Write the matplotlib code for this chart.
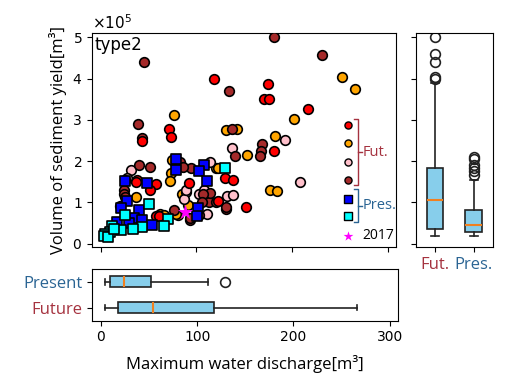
import matplotlib
matplotlib.use('Agg')
import matplotlib.pyplot as plt
import numpy as np

# ---- data (y in units of 1e5) ----
fut_red_x = [118.3, 174.9, 170.3, 175.5, 216.8, 71.2, 73.3, 43.2, 180.7, 37.7, 36.3, 57.2,
             51.9, 92.5, 130.2, 138.2, 122.5, 152.1, 57.9, 61.0, 20.0]
fut_red_y = [3.98, 3.86, 3.50, 3.50, 3.25, 2.77, 2.59, 2.48, 2.24, 1.55, 1.50, 1.44,
             1.29, 1.47, 1.58, 1.54, 1.03, 0.89, 0.66, 0.67, 0.90]

fut_orange_x = [252.4, 266.3, 76.4, 202.1, 130.5, 142.0, 181.8, 152.9, 74.7, 72.9, 72.0,
                120.4, 123.0, 177.3, 184.2, 36.3, 85.1, 91.0, 62.4, 66.0, 81.0, 79.0]
fut_orange_y = [4.04, 3.75, 3.11, 3.03, 2.75, 2.78, 2.61, 2.14, 2.02, 1.70, 1.52,
                1.84, 1.84, 1.29, 1.27, 1.13, 1.21, 0.94, 0.71, 0.69, 0.69, 0.72]

fut_pink_x = [137.2, 192.3, 208.0, 32.0, 114.5, 89.3, 102.2, 107.4, 131.9, 138.0, 111.0,
              87.2, 88.6, 27.0]
fut_pink_y = [2.31, 2.52, 1.50, 1.78, 1.98, 1.25, 1.21, 1.29, 1.15, 1.17, 0.71,
              1.09, 1.29, 1.60]

fut_brown_x = [181.5, 231.7, 45.0, 134.0, 39.0, 43.2, 136.8, 168.6, 167.5, 166.3, 140.6,
               40.1, 51.9, 82.3, 94.6, 112.7, 114.5, 130.9, 130.9, 93.5, 76.4, 24.4,
               24.4, 25.0, 25.0, 102.2, 92.8, 106.9, 120.0, 105.8, 86.0]
fut_brown_y = [5.00, 4.57, 4.39, 3.70, 2.91, 2.57, 2.77, 2.41, 2.24, 2.12, 2.12,
               1.90, 1.86, 1.98, 1.82, 1.01, 1.23, 0.83, 0.88, 0.57, 0.81, 1.29,
               1.21, 1.13, 1.54, 0.69, 0.61, 1.21, 1.00, 1.00, 1.86]

pres_blue_x = [78.1, 78.5, 107.4, 102.2, 111.1, 25.1, 48.5, 27.5, 21.6, 39.8, 34.6, 43.2,
               53.7, 17.1, 29.3, 101.6, 100.6]
pres_blue_y = [2.06, 1.78, 1.90, 1.76, 1.52, 1.52, 1.46, 1.03, 0.85, 0.81, 0.61, 0.58,
               0.44, 0.52, 0.49, 0.85, 0.67]

pres_cyan_x = [129.4, 50.2, 25.1, 70.5, 66.0, 43.2, 33.5, 21.6, 11.8, 10.1, 4.8, 3.5, 7.0, 14.0]
pres_cyan_y = [1.82, 0.97, 0.69, 0.59, 0.42, 0.39, 0.35, 0.32, 0.42, 0.28, 0.22, 0.19, 0.17, 0.36]

obs_2017_x = [88.3]
obs_2017_y = [0.77]

# box plot summaries
discharge_stats = {
    'Future': dict(whislo=3.8, q1=17.4, med=53.7, q3=118.0, whishi=265.6, fliers=[]),
    'Present': dict(whislo=3.8, q1=9.7, med=24.4, q3=51.6, whishi=111.6, fliers=[129.0]),
}
sediment_stats = {
    'Fut.': dict(whislo=0.19, q1=0.35, med=1.05, q3=1.82, whishi=3.88,
                 fliers=[3.99, 4.03, 4.41, 4.59, 5.0]),
    'Pres.': dict(whislo=0.19, q1=0.27, med=0.46, q3=0.81, whishi=1.54,
                  fliers=[1.66, 1.76, 1.82, 1.90, 2.04, 2.09]),
}

SCALE = 1e5
FUT_C = '#A5323F'
PRES_C = '#2A6493'
TXT_FONT = ['Open Sans', 'DejaVu Sans']

fig = plt.figure(figsize=(5.16, 3.9), dpi=100)
ax = fig.add_axes([0.178, 0.367, 0.590, 0.548])
axr = fig.add_axes([0.806, 0.367, 0.149, 0.548], sharey=ax)
axb = fig.add_axes([0.178, 0.178, 0.594, 0.1326], sharex=ax)

series = [
    (fut_orange_x, fut_orange_y, 'orange', 'o'),
    (fut_pink_x, fut_pink_y, 'pink', 'o'),
    (fut_brown_x, fut_brown_y, 'brown', 'o'),
    (fut_red_x, fut_red_y, 'red', 'o'),
    (pres_blue_x, pres_blue_y, 'blue', 's'),
    (pres_cyan_x, pres_cyan_y, 'cyan', 's'),
]
for xs, ys, c, m in series:
    ax.scatter(xs, np.array(ys) * SCALE, s=48, c=c, marker=m, edgecolors='black',
               linewidths=1.2, zorder=3)
ax.scatter(obs_2017_x, np.array(obs_2017_y) * SCALE, s=130, c='magenta', marker='*',
           linewidths=0, zorder=4)

# hand-made legend (axes fraction)
leg_x = 0.843
leg_items = [('red', 'o', 0.569), ('orange', 'o', 0.484), ('pink', 'o', 0.397),
             ('brown', 'o', 0.312), ('blue', 's', 0.226), ('cyan', 's', 0.143)]
for c, m, yy in leg_items:
    ax.scatter([leg_x], [yy], s=26, c=c, marker=m, edgecolors='black', linewidths=1.0,
               transform=ax.transAxes, zorder=5)
ax.scatter([leg_x], [0.053], s=55, c='magenta', marker='*', linewidths=0,
           transform=ax.transAxes, zorder=5)
ax.text(0.888, 0.053, '2017', transform=ax.transAxes, fontsize=10, va='center',
        family=TXT_FONT)


def bracket(y0, y1, color, label):
    xa, xb, xc = 0.860, 0.873, 0.888
    ax.plot([xa, xb, xb, xa], [y0, y0, y1, y1], color=color, lw=1.0,
            transform=ax.transAxes, clip_on=False)
    ym = (y0 + y1) / 2
    ax.plot([xb, xc], [ym, ym], color=color, lw=1.0, transform=ax.transAxes)
    ax.text(xc + 0.003, ym, label, color=color, transform=ax.transAxes, fontsize=10.5,
            va='center', family=TXT_FONT)


bracket(0.597, 0.288, FUT_C, 'Fut.')
bracket(0.269, 0.116, PRES_C, 'Pres.')

ax.text(0.01, 0.985, 'type2', transform=ax.transAxes, fontsize=12, va='top', ha='left')
ax.set_xlim(-9.4, 309)
ax.set_ylim(-0.08 * SCALE, 5.1 * SCALE)
ax.set_yticks(np.arange(0, 6) * SCALE)
ax.ticklabel_format(style='sci', axis='y', scilimits=(0, 0), useMathText=True)
ax.yaxis.get_offset_text().set_fontsize(11)
ax.tick_params(labelbottom=False, labelsize=10)
ax.set_ylabel('Volume of sediment yield[m³]', fontsize=12, family=TXT_FONT)

boxkw = dict(patch_artist=True, widths=0.42,
             boxprops=dict(facecolor='skyblue', edgecolor='#222222', linewidth=1.2),
             medianprops=dict(color='#F08020', linewidth=1.5),
             whiskerprops=dict(color='#222222', linewidth=1.2),
             capprops=dict(color='#222222', linewidth=1.2),
             flierprops=dict(marker='o', markerfacecolor='none', markeredgecolor='#222222',
                             markersize=7, markeredgewidth=1.2))

# right: sediment yield box plots
sed_stats = []
for k, v in sediment_stats.items():
    d = dict(v)
    for key in ('whislo', 'q1', 'med', 'q3', 'whishi'):
        d[key] = v[key] * SCALE
    d['fliers'] = np.array(v['fliers']) * SCALE
    d['label'] = k
    sed_stats.append(d)
axr.bxp(sed_stats, positions=[1, 2], **boxkw)
axr.set_xlim(0.5, 2.5)
axr.tick_params(labelleft=False, labelsize=12)
axr.yaxis.get_offset_text().set_visible(False)
for lab, c in zip(axr.get_xticklabels(), [FUT_C, PRES_C]):
    lab.set_color(c)
    lab.set_family(TXT_FONT)
    lab.set_fontsize(12)

# bottom: discharge box plots
dis_stats = []
for k in ['Future', 'Present']:
    d = dict(discharge_stats[k])
    d['label'] = k
    dis_stats.append(d)
axb.bxp(dis_stats, positions=[1, 2], orientation='horizontal', **boxkw)
axb.set_ylim(0.5, 2.5)
axb.tick_params(labelsize=10)
for lab, c in zip(axb.get_yticklabels(), [FUT_C, PRES_C]):
    lab.set_color(c)
    lab.set_family(TXT_FONT)
    lab.set_fontsize(12)
axb.set_xticks([0, 100, 200, 300])
axb.set_xlim(-9.4, 309)
axb.set_xlabel('Maximum water discharge[m³]', fontsize=12, family=TXT_FONT, labelpad=8)

fig.savefig('out.png', dpi=100)
